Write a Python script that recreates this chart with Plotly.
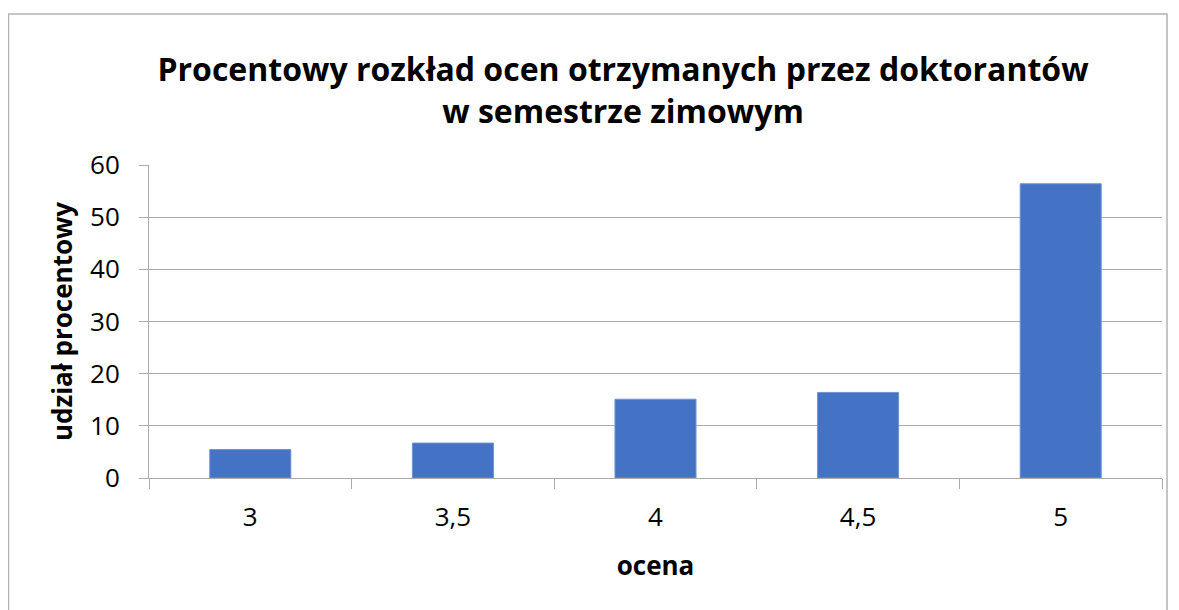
import plotly.graph_objects as go

categories = ["3", "3,5", "4", "4,5", "5"]
values = [5.45, 6.7, 15.1, 16.4, 56.4]
y_ticks = [0, 10, 20, 30, 40, 50, 60]

title_text = "Procentowy rozkład ocen otrzymanych przez doktorantów<br>w semestrze zimowym"

# page has an 8px body margin, so the figure starts at (8, 8)
OFF = 8
W, H = 1179 - OFF, 610 - OFF
L = 149 - OFF
R = 1179 - 1162
T = 165 - OFF
B = 610 - 478
pw = W - L - R
ph = H - T - B

fig = go.Figure()
fig.add_trace(go.Bar(
    x=categories, y=values,
    marker=dict(color="#4472C4", line=dict(color="#6f93d3", width=1)),
    width=0.4,
))

grid = "#ababab"
fig.update_layout(
    width=W, height=H, autosize=False,
    margin=dict(l=L, r=R, t=T, b=B),
    paper_bgcolor="white", plot_bgcolor="white",
    font=dict(family="Open Sans", color="black"),
    showlegend=False,
    title=dict(
        text=title_text,
        x=(623 - 149) / pw, xref="paper", xanchor="center",
        y=1 - (81 - OFF) / H, yref="container", yanchor="middle",
        font=dict(family="Open Sans", size=32, color="black", weight="bold"),
    ),
    xaxis=dict(
        type="category",
        showline=True, linecolor=grid, linewidth=1,
        ticks="outside", tickson="boundaries", ticklen=10, tickcolor=grid, tickwidth=1,
        tickfont=dict(size=26, color="black"),
        ticklabelstandoff=16,
        title=dict(text="<b>ocena</b>", font=dict(size=26, color="black"), standoff=23),
        showgrid=False,
    ),
    yaxis=dict(
        range=[0, 60], tickvals=y_ticks,
        showline=True, linecolor=grid, linewidth=1,
        ticks="outside", ticklen=9, tickcolor=grid, tickwidth=1,
        tickfont=dict(size=26, color="black"),
        ticklabelstandoff=14,
        showgrid=True, gridcolor=grid, gridwidth=1,
        zeroline=False,
        title=dict(text="<b>udział procentowy</b>", font=dict(size=26, color="black"), standoff=9),
    ),
    shapes=[dict(
        type="rect", xref="paper", yref="paper",
        x0=-L / pw + 0.5 / pw, x1=(1167 - 149) / pw,
        y0=-(B + 40) / ph, y1=(T - (14 - OFF)) / ph + 1,
        line=dict(color="#b3b3b3", width=1.5), fillcolor="rgba(0,0,0,0)", layer="below",
    )],
)

fig.write_html("out.html")
